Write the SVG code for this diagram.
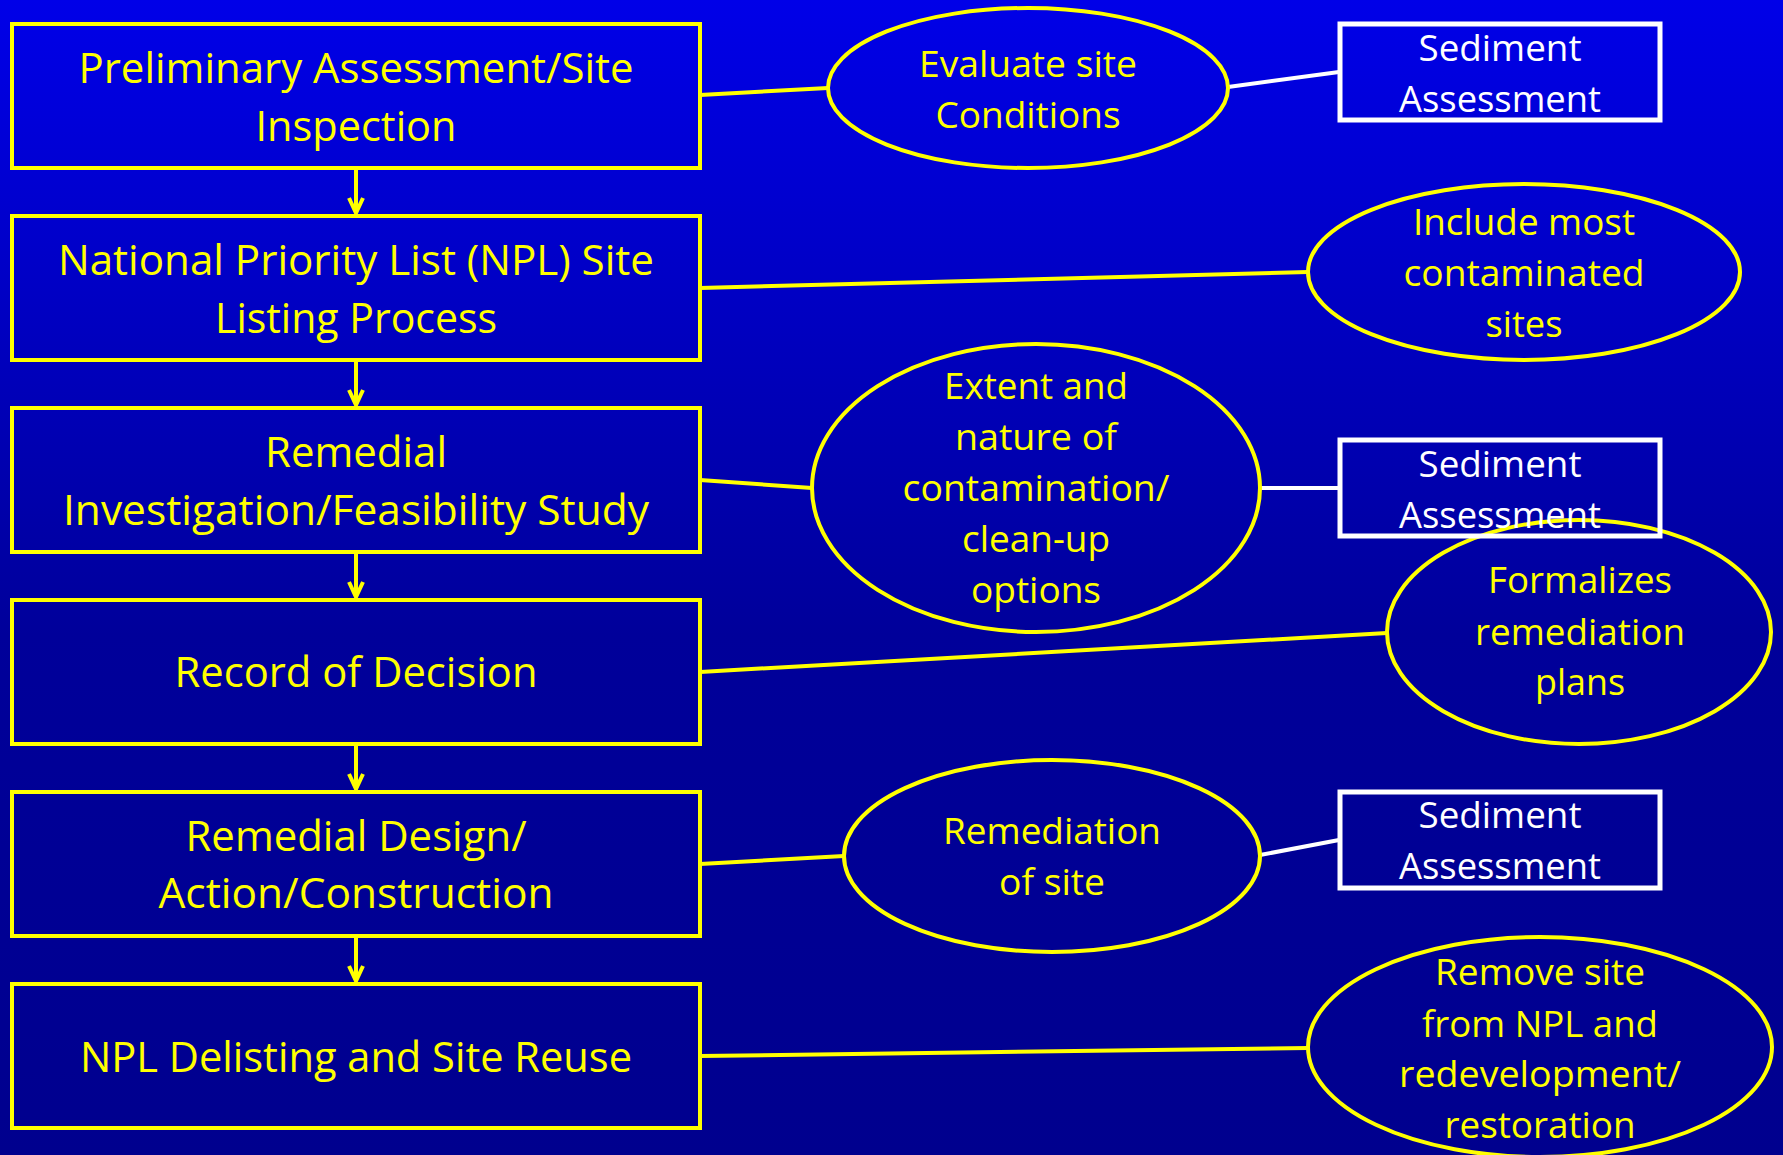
<svg xmlns="http://www.w3.org/2000/svg" width="1783" height="1155" viewBox="0 0 1783 1155">
<defs>
<linearGradient id="bg" x1="0" y1="0" x2="0" y2="1">
<stop offset="0" stop-color="#0000E8"/>
<stop offset="0.55" stop-color="#00009A"/>
<stop offset="1" stop-color="#00008E"/>
</linearGradient>
<style>
.box{fill:none;stroke:#FFFF00;stroke-width:4}
.sed{fill:none;stroke:#FFFFFF;stroke-width:5}
.ell{fill:none;stroke:#FFFF00;stroke-width:4}
.t{font-family:"Open Sans","Lato","Liberation Sans",sans-serif;fill:#FFFF00;text-anchor:middle}
.big{font-size:42px}
.sm{font-size:37px}
.w{fill:#FFFFFF}
.cy{stroke:#FFFF00;stroke-width:4;fill:none}
.cw{stroke:#FFFFFF;stroke-width:4;fill:none}
</style>
</defs>
<rect x="0" y="0" width="1783" height="1155" fill="url(#bg)"/>

<g id="connectors">
<path class="cy" d="M356 170V213M349 198L356 213L363 198"/>
<path class="cy" d="M356 362V405M349 390L356 405L363 390"/>
<path class="cy" d="M356 554V597M349 582L356 597L363 582"/>
<path class="cy" d="M356 746V789M349 774L356 789L363 774"/>
<path class="cy" d="M356 938V981M349 966L356 981L363 966"/>
<line class="cy" x1="700" y1="95" x2="828" y2="88"/>
<line class="cy" x1="700" y1="288" x2="1308" y2="272"/>
<line class="cy" x1="700" y1="480" x2="812" y2="488"/>
<line class="cy" x1="700" y1="672" x2="1387" y2="633"/>
<line class="cy" x1="700" y1="864" x2="844" y2="856"/>
<line class="cy" x1="700" y1="1056" x2="1308" y2="1048"/>
<line class="cw" x1="1228" y1="87" x2="1339" y2="72"/>
<line class="cw" x1="1260" y1="488" x2="1339" y2="488"/>
<line class="cw" x1="1260" y1="855" x2="1339" y2="840"/>
</g>

<g id="n1">
<rect class="box" x="12" y="24" width="688" height="144"/>
<text class="t big" x="356" y="83" textLength="555" lengthAdjust="spacingAndGlyphs">Preliminary Assessment/Site</text>
<text class="t big" x="356" y="141" textLength="201" lengthAdjust="spacingAndGlyphs">Inspection</text>
</g>
<g id="n2">
<rect class="box" x="12" y="216" width="688" height="144"/>
<text class="t big" x="356" y="275" textLength="596" lengthAdjust="spacingAndGlyphs">National Priority List (NPL) Site</text>
<text class="t big" x="356" y="333" textLength="282" lengthAdjust="spacingAndGlyphs">Listing Process</text>
</g>
<g id="n3">
<rect class="box" x="12" y="408" width="688" height="144"/>
<text class="t big" x="356" y="467" textLength="182" lengthAdjust="spacingAndGlyphs">Remedial</text>
<text class="t big" x="356" y="525" textLength="586" lengthAdjust="spacingAndGlyphs">Investigation/Feasibility Study</text>
</g>
<g id="n4">
<rect class="box" x="12" y="600" width="688" height="144"/>
<text class="t big" x="356" y="687" textLength="363" lengthAdjust="spacingAndGlyphs">Record of Decision</text>
</g>
<g id="n5">
<rect class="box" x="12" y="792" width="688" height="144"/>
<text class="t big" x="356" y="851" textLength="341" lengthAdjust="spacingAndGlyphs">Remedial Design/</text>
<text class="t big" x="356" y="908" textLength="395" lengthAdjust="spacingAndGlyphs">Action/Construction</text>
</g>
<g id="n6">
<rect class="box" x="12" y="984" width="688" height="144"/>
<text class="t big" x="356" y="1072" textLength="552" lengthAdjust="spacingAndGlyphs">NPL Delisting and Site Reuse</text>
</g>

<g id="e1">
<ellipse class="ell" cx="1028" cy="88" rx="200" ry="80"/>
<text class="t sm" x="1028" y="77" textLength="218" lengthAdjust="spacingAndGlyphs">Evaluate site</text>
<text class="t sm" x="1028" y="128" textLength="185" lengthAdjust="spacingAndGlyphs">Conditions</text>
</g>
<g id="e2">
<ellipse class="ell" cx="1524" cy="272" rx="216" ry="88"/>
<text class="t sm" x="1524" y="235" textLength="222" lengthAdjust="spacingAndGlyphs">Include most</text>
<text class="t sm" x="1524" y="286" textLength="241" lengthAdjust="spacingAndGlyphs">contaminated</text>
<text class="t sm" x="1524" y="337" textLength="77" lengthAdjust="spacingAndGlyphs">sites</text>
</g>
<g id="e3">
<ellipse class="ell" cx="1036" cy="488" rx="224" ry="144"/>
<text class="t sm" x="1036" y="399" textLength="184" lengthAdjust="spacingAndGlyphs">Extent and</text>
<text class="t sm" x="1036" y="450" textLength="162" lengthAdjust="spacingAndGlyphs">nature of</text>
<text class="t sm" x="1036" y="501" textLength="267" lengthAdjust="spacingAndGlyphs">contamination/</text>
<text class="t sm" x="1036" y="552" textLength="148" lengthAdjust="spacingAndGlyphs">clean-up</text>
<text class="t sm" x="1036" y="603" textLength="130" lengthAdjust="spacingAndGlyphs">options</text>
</g>
<g id="e4">
<ellipse class="ell" cx="1579" cy="632" rx="192" ry="112"/>
<text class="t sm" x="1580" y="593" textLength="184" lengthAdjust="spacingAndGlyphs">Formalizes</text>
<text class="t sm" x="1580" y="645" textLength="210" lengthAdjust="spacingAndGlyphs">remediation</text>
<text class="t sm" x="1580" y="695" textLength="90" lengthAdjust="spacingAndGlyphs">plans</text>
</g>
<g id="e5">
<ellipse class="ell" cx="1052" cy="856" rx="208" ry="96"/>
<text class="t sm" x="1052" y="844" textLength="218" lengthAdjust="spacingAndGlyphs">Remediation</text>
<text class="t sm" x="1052" y="895" textLength="106" lengthAdjust="spacingAndGlyphs">of site</text>
</g>
<g id="e6">
<ellipse class="ell" cx="1540" cy="1047" rx="232" ry="110"/>
<text class="t sm" x="1540" y="985" textLength="210" lengthAdjust="spacingAndGlyphs">Remove site</text>
<text class="t sm" x="1540" y="1037" textLength="236" lengthAdjust="spacingAndGlyphs">from NPL and</text>
<text class="t sm" x="1540" y="1087" textLength="282" lengthAdjust="spacingAndGlyphs">redevelopment/</text>
<text class="t sm" x="1540" y="1138" textLength="191" lengthAdjust="spacingAndGlyphs">restoration</text>
</g>

<g id="s1">
<rect class="sed" x="1340" y="24" width="320" height="96"/>
<text class="t sm w" x="1500" y="61" textLength="163" lengthAdjust="spacingAndGlyphs">Sediment</text>
<text class="t sm w" x="1500" y="112" textLength="202" lengthAdjust="spacingAndGlyphs">Assessment</text>
</g>
<g id="s2">
<rect class="sed" x="1340" y="440" width="320" height="96"/>
<text class="t sm w" x="1500" y="477" textLength="163" lengthAdjust="spacingAndGlyphs">Sediment</text>
<text class="t sm w" x="1500" y="528" textLength="202" lengthAdjust="spacingAndGlyphs">Assessment</text>
</g>
<g id="s3">
<rect class="sed" x="1340" y="792" width="320" height="96"/>
<text class="t sm w" x="1500" y="828" textLength="163" lengthAdjust="spacingAndGlyphs">Sediment</text>
<text class="t sm w" x="1500" y="879" textLength="202" lengthAdjust="spacingAndGlyphs">Assessment</text>
</g>
</svg>
